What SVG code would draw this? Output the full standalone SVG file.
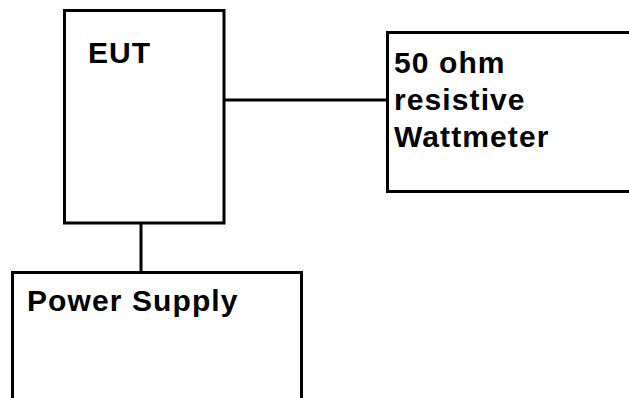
<svg xmlns="http://www.w3.org/2000/svg" width="629" height="398" viewBox="0 0 629 398">
<style>
.box{fill:#fff;stroke:#000;stroke-width:3}
.lbl{font-family:"Liberation Sans",Arial,sans-serif;font-size:30px;font-weight:bold;letter-spacing:1.1px;fill:#000}
.wire{stroke:#000;stroke-width:3;fill:none}
</style>
<rect width="629" height="398" fill="#fff"/>
<g id="connectors">
<line class="wire" x1="224" y1="100" x2="387" y2="100"/>
<line class="wire" x1="141" y1="223" x2="141" y2="273"/>
</g>
<g id="eut">
<rect class="box" x="64.5" y="10.5" width="159.5" height="212.5"/>
<text class="lbl" x="88" y="63">EUT</text>
</g>
<g id="wattmeter">
<rect class="box" x="387.5" y="32.5" width="243" height="159"/>
<text class="lbl" x="394" y="73">50 ohm</text>
<text class="lbl" x="394" y="110">resistive</text>
<text class="lbl" x="394" y="147">Wattmeter</text>
</g>
<g id="power">
<rect class="box" x="12.5" y="272.5" width="289" height="130"/>
<text class="lbl" x="27" y="311">Power Supply</text>
</g>
</svg>
